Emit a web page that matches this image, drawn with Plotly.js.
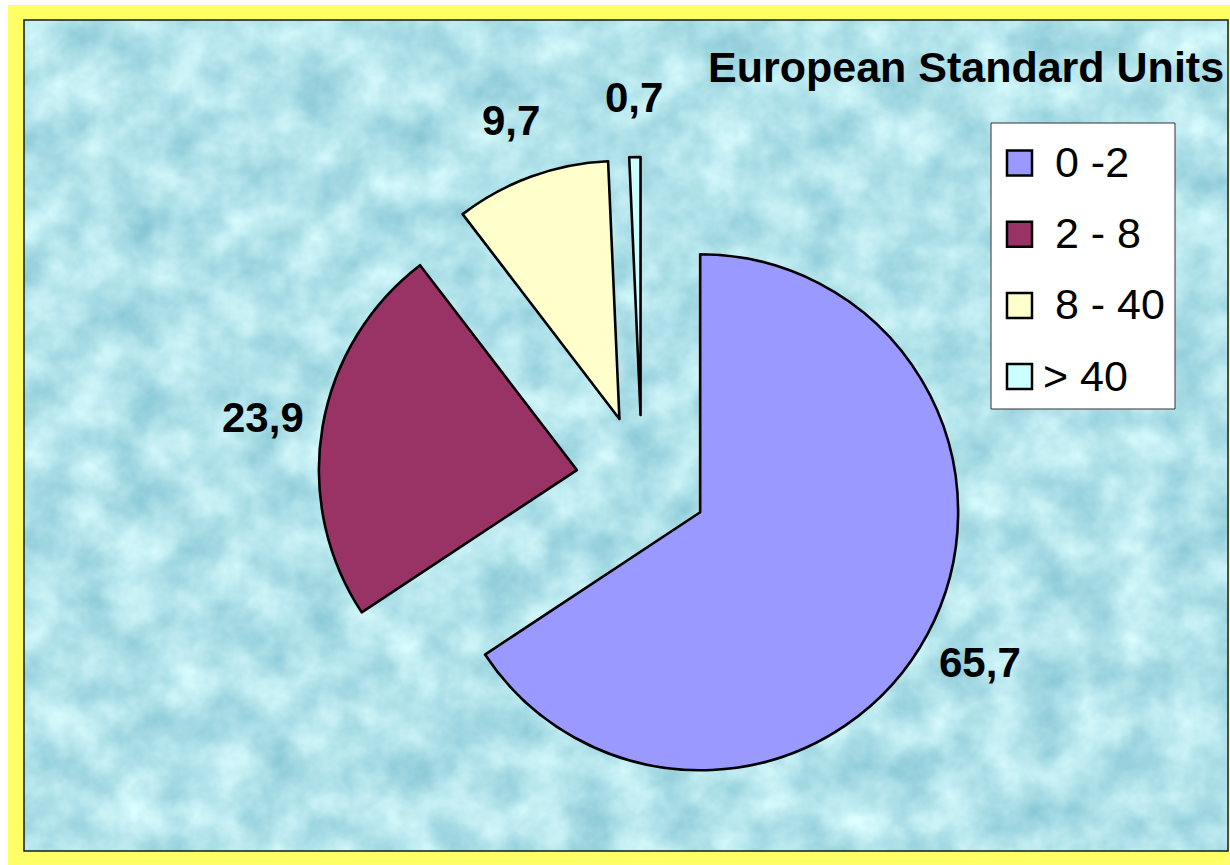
<!DOCTYPE html>
<html>
<head>
<meta charset="utf-8">
<script src="https://cdn.plot.ly/plotly-3.0.1.min.js"></script>
<style>
  html, body { margin: 0; padding: 0; background: #ffffff; }
  #chart { width: 1230px; height: 865px; }
</style>
</head>
<body>
<div id="chart"></div>
<script>
// ---- data ----
const categories = ['\u00a00 -2', '\u00a02 - 8', '\u00a08 - 40', '> 40'];
const shares = [65.7, 23.9, 9.7, 0.7];
const sliceColors = ['#9999FF', '#993366', '#FFFFCC', '#CCFFFF'];
const chartTitle = 'European Standard Units';

// ---- geometry helpers (pixels -> paper) ----
const W = 1230, H = 865;
const px = x => x / W;
const py = y => 1 - y / H;

const cx = 642, cy = 481;      // pie centre in pixels
const halfBox = 324;           // half of the pie domain box
const pullFrac = 0.256;
const radius = (2 * halfBox) / (2 + 2 * pullFrac);
const pullPx = radius * pullFrac;
const labelDist = 318;         // from slice vertex to label centre

const FONT = 'Liberation Sans, Arial, Helvetica, sans-serif';

const texture = 'data:image/svg+xml;utf8,' + encodeURIComponent(
  "<svg xmlns='http://www.w3.org/2000/svg' width='1204' height='831'>" +
  "<filter id='f' x='0' y='0' width='100%' height='100%' color-interpolation-filters='sRGB'>" +
  "<feTurbulence type='fractalNoise' baseFrequency='0.022' numOctaves='4' seed='11'/>" +
  "<feColorMatrix type='matrix' values='0.40 0 0 0 0.50  0.26 0 0 0 0.76  0.20 0 0 0 0.82  0 0 0 0 1'/>" +
  "</filter><rect width='100%' height='100%' filter='url(#f)'/></svg>");

// ---- pie trace ----
const pie = {
  type: 'pie',
  labels: categories,
  values: shares,
  sort: false,
  direction: 'clockwise',
  rotation: 0,
  pull: shares.map(() => pullFrac),
  marker: { colors: sliceColors, line: { color: '#000000', width: 2.6 } },
  textinfo: 'none',
  hoverinfo: 'label+value',
  showlegend: false,
  domain: { x: [px(cx - halfBox), px(cx + halfBox)], y: [py(cy + halfBox), py(cy - halfBox)] }
};

// ---- value labels (positioned from the data) ----
const total = shares.reduce((a, b) => a + b, 0);
const annotations = [];
let cum = 0;
shares.forEach((v, i) => {
  const mid = (cum + v / 2) / total * 2 * Math.PI;
  cum += v;
  const d = pullPx + labelDist;
  annotations.push({
    xref: 'paper', yref: 'paper',
    x: px(cx + d * Math.sin(mid)), y: py(cy - d * Math.cos(mid)),
    xanchor: 'center', yanchor: 'middle',
    text: v.toFixed(1).replace('.', ','),
    showarrow: false,
    font: { family: FONT, size: 42, color: '#000000', weight: 700 }
  });
});

// ---- frame & legend shapes ----
const shapes = [
  { type: 'rect', xref: 'paper', yref: 'paper', x0: 0, x1: 1, y0: py(5), y1: 1, fillcolor: '#ffffff', line: { width: 0 }, layer: 'below' },
  { type: 'rect', xref: 'paper', yref: 'paper', x0: 0, x1: px(8), y0: 0, y1: 1, fillcolor: '#ffffff', line: { width: 0 }, layer: 'below' },
  { type: 'rect', xref: 'paper', yref: 'paper', x0: px(24), x1: px(1228), y0: py(851), y1: py(20), line: { color: '#1a1a1a', width: 1.5 }, layer: 'below' },
  { type: 'rect', xref: 'paper', yref: 'paper', x0: px(991), x1: px(1175), y0: py(409), y1: py(123), fillcolor: '#ffffff', line: { color: '#333333', width: 1 }, layer: 'below' }
];

const legendTop = 163, legendStep = 71.2;
categories.forEach((c, i) => {
  const yc = legendTop + i * legendStep;
  shapes.push({
    type: 'rect', xref: 'paper', yref: 'paper',
    x0: px(1007), x1: px(1032), y0: py(yc + 12.5), y1: py(yc - 12.5),
    fillcolor: sliceColors[i], line: { color: '#000000', width: 2.5 }, layer: 'below'
  });
  annotations.push({
    xref: 'paper', yref: 'paper', x: px(1041), y: py(yc - 1),
    xanchor: 'left', yanchor: 'middle', showarrow: false,
    text: c,
    font: { family: FONT, size: 43, color: '#000000' }
  });
});

const layout = {
  width: W, height: H,
  margin: { l: 0, r: 0, t: 0, b: 0 },
  paper_bgcolor: '#FFFF66',
  showlegend: false,
  title: {
    text: chartTitle,
    xref: 'paper', yref: 'paper',
    x: px(708), xanchor: 'left',
    y: py(67), yanchor: 'middle',
    font: { family: FONT, size: 43, color: '#000000', weight: 700 }
  },
  images: [{
    source: texture, xref: 'paper', yref: 'paper',
    x: px(24), y: py(20), sizex: px(1228) - px(24), sizey: py(20) - py(851),
    xanchor: 'left', yanchor: 'top', sizing: 'stretch', layer: 'below'
  }],
  shapes: shapes,
  annotations: annotations
};

Plotly.newPlot('chart', [pie], layout, { displayModeBar: false, staticPlot: true });
</script>
</body>
</html>
